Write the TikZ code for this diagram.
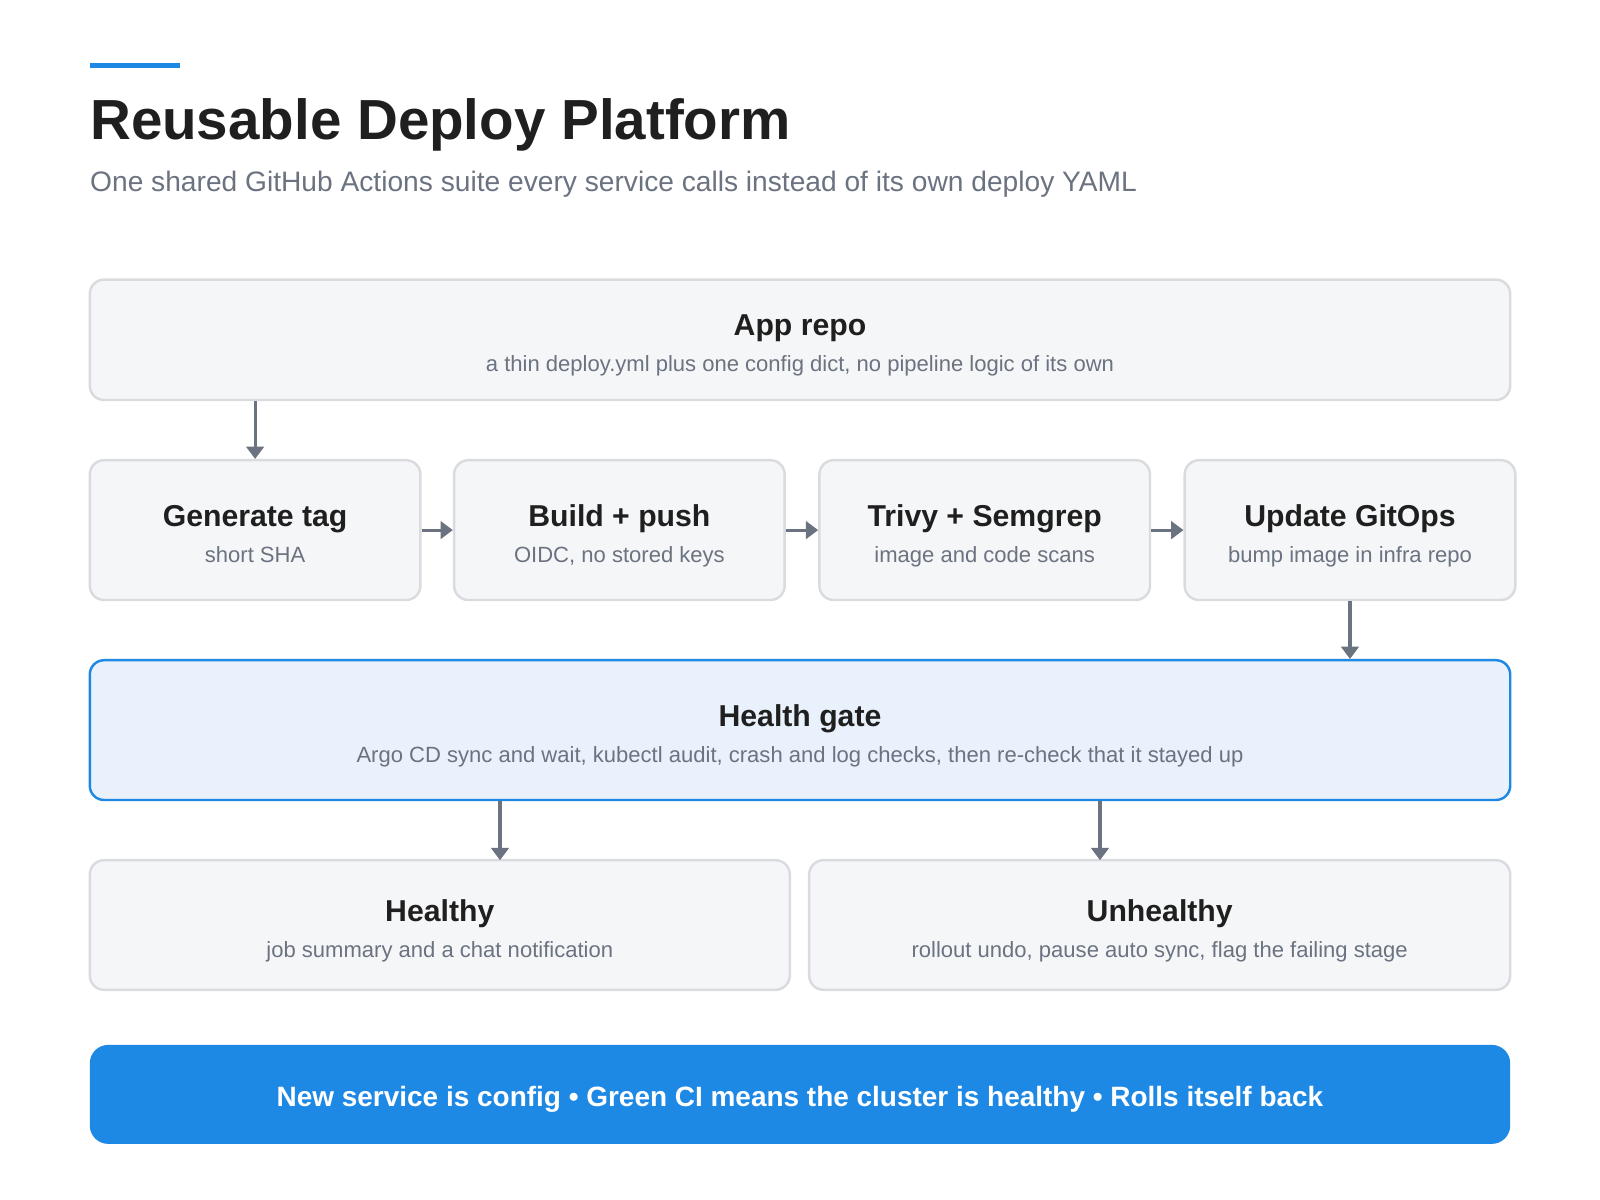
\documentclass[tikz,border=0pt]{standalone}
\usepackage{fontspec}
\setmainfont{Liberation Sans}
\usetikzlibrary{arrows.meta}
\definecolor{boxfill}{HTML}{F5F6F8}
\definecolor{boxline}{HTML}{D9DBDF}
\definecolor{arr}{HTML}{6B7280}
\definecolor{ink}{HTML}{1F1F1F}
\definecolor{sub}{HTML}{6B7280}
\definecolor{accent}{HTML}{1E88E5}
\definecolor{hfill}{HTML}{E8F1FC}
\begin{document}
\begin{tikzpicture}[x=0.5pt,y=-0.5pt,
  box/.style={draw=boxline,fill=boxfill,line width=1.2pt,rounded corners=7pt,inner sep=0pt},
  ttl/.style={font=\fontsize{14.8}{18}\selectfont\bfseries,text=ink,anchor=base},
  st/.style={font=\fontsize{10.8}{13}\selectfont,text=sub,anchor=base},
  ar/.style={draw=arr,line width=1.5pt,-{Triangle[length=6pt,width=8.5pt]}}]
\useasboundingbox (0,0) rectangle (1568,1176);
\fill[accent] (88,62) rectangle (176,67);
\node[anchor=base west,inner sep=0pt,font=\fontsize{27.7}{32}\selectfont\bfseries,text=ink] (title) at (88,137) {Reusable Deploy Platform};
\node[anchor=base west,inner sep=0pt,font=\fontsize{13.8}{17}\selectfont,text=sub] (subt) at (88,188) {One shared GitHub Actions suite every service calls instead of its own deploy YAML};
% boxes
\node[box] (app) at (784,333) [minimum width=696pt,minimum height=59pt] {};
\node[ttl] at (784,329) {App repo};
\node[st] at (784,364) {a thin deploy.yml plus one config dict, no pipeline logic of its own};
\foreach \n/\cx/\t/\s in {gen/250/Generate tag/short SHA, build/607/Build + push/{OIDC, no stored keys}, scan/965/Trivy + Semgrep/image and code scans, upd/1323/Update GitOps/bump image in infra repo}{
  \node[box,minimum width=162pt,minimum height=68.5pt] (\n) at (\cx,519.5) {};
  \node[ttl] at (\cx,516) {\t};
  \node[st] at (\cx,551) {\s};
}
\node[box,draw=accent,fill=hfill] (health) at (784,715.5) [minimum width=696pt,minimum height=68.5pt] {};
\node[ttl] at (784,712) {Health gate};
\node[st] at (784,747) {Argo CD sync and wait, kubectl audit, crash and log checks, then re-check that it stayed up};
\node[box,minimum width=343pt,minimum height=63.5pt] (ok) at (431,906.5) {};
\node[ttl] at (431,903) {Healthy};
\node[st] at (431,938) {job summary and a chat notification};
\node[box,minimum width=343.5pt,minimum height=63.5pt] (bad) at (1136.5,906.5) {};
\node[ttl] at (1136.5,903) {Unhealthy};
\node[st] at (1136.5,938) {rollout undo, pause auto sync, flag the failing stage};
\node[fill=accent,rounded corners=9pt,minimum width=696pt,minimum height=48.5pt,inner sep=0pt] (foot) at (784,1072.5) {};
\node[anchor=base,font=\fontsize{13.7}{17}\selectfont\bfseries,text=white] at (784,1084) {New service is config • Green CI means the cluster is healthy • Rolls itself back};
% arrows
\draw[ar] (app.south -| gen) -- (gen.north);
\draw[ar] (gen.east) -- (build.west);
\draw[ar] (build.east) -- (scan.west);
\draw[ar] (scan.east) -- (upd.west);
\draw[ar] (upd.south) -- (health.north -| upd);
\coordinate (h1) at (490,843);
\coordinate (h2) at (1078,843);
\draw[ar] (health.south -| h1) -- (h1);
\draw[ar] (health.south -| h2) -- (h2);
\end{tikzpicture}
\end{document}
